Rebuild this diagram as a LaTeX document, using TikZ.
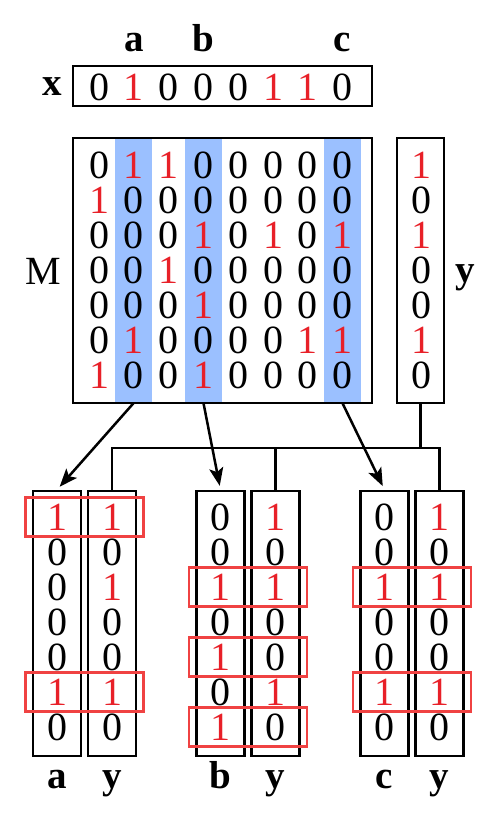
\documentclass[tikz,border=0pt]{standalone}
\usepackage{fontspec}
\setmainfont{Liberation Serif}
\usetikzlibrary{arrows.meta}
\definecolor{bitred}{RGB}{232,32,40}
\definecolor{stripeblue}{RGB}{155,192,255}
\definecolor{hitred}{RGB}{240,66,66}
\tikzset{
  b0/.style={text=black, inner sep=0pt, font=\fontsize{40}{40}\selectfont},
  b1/.style={text=bitred, inner sep=0pt, font=\fontsize{40}{40}\selectfont},
  lbl/.style={anchor=base, inner sep=0pt, font=\fontsize{39}{39}\selectfont\bfseries},
  vecbox/.style={draw, line width=2.5pt, minimum width=48pt, minimum height=265pt, inner sep=0pt},
  stripe/.style={fill=stripeblue, minimum width=37pt, minimum height=265pt, inner sep=0pt},
  hitbox/.style={draw=hitred, line width=2.5pt, minimum width=118pt, minimum height=39pt, inner sep=0pt},
  conn/.style={line width=2.5pt},
  arr/.style={conn, -{Stealth[length=18pt, width=14pt, inset=4pt]}, shorten >=4pt}
}
\begin{document}
\begin{tikzpicture}[x=1pt, y=-1pt]
  \useasboundingbox (0,0) rectangle (500,824);

  % Vector x with column labels
  \node[lbl] (lblx) at (52,96) {x};
  \node[draw, line width=2.5pt, minimum width=299pt, minimum height=40pt, inner sep=0pt] (xvec) at (222.5,86) {};
  \foreach \v [count=\c] in {0,1,0,0,0,1,1,0} {
    \node[b\v] (x\c) at ({64.2+34.8*\c}, 87) {\v};
  }
  \node[lbl] (lbltopa) at (133.8,52) {a};
  \node[lbl] (lbltopb) at (203.4,52) {b};
  \node[lbl] (lbltopc) at (342.6,52) {c};

  % Matrix M with the selected columns shaded
  \node[stripe] (stripea) at (133.5,270.5) {};
  \node[stripe] (stripeb) at (203.5,270.5) {};
  \node[stripe] (stripec) at (342.5,270.5) {};
  \node[draw, line width=2.5pt, minimum width=299pt, minimum height=265pt, inner sep=0pt] (mat) at (222.5,270.5) {};
  \node[font=\fontsize{40}{40}\selectfont, anchor=base, inner sep=0pt] (lblm) at (43,284) {M};
  \foreach \row [count=\r] in {{0,1,1,0,0,0,0,0},{1,0,0,0,0,0,0,0},{0,0,0,1,0,1,0,1},
      {0,0,1,0,0,0,0,0},{0,0,0,1,0,0,0,0},{0,1,0,0,0,0,1,1},{1,0,0,1,0,0,0,0}} {
    \foreach \v [count=\c] in \row {
      \node[b\v] (m\r\c) at ({64.2+34.8*\c}, {130+35*\r}) {\v};
    }
  }

  % Vector y
  \node[vecbox, minimum width=47pt] (yvec) at (420.5,270.5) {};
  \foreach \v [count=\r] in {1,0,1,0,0,1,0} {
    \node[b\v] (yv\r) at (421, {130+35*\r}) {\v};
  }
  \node[lbl] (lbly) at (465,282) {y};

  % Column / y pairs below
  \foreach \g/\gx/\bits/\hits in {a/84.5/{1,0,0,0,0,1,0}/{1,6},
      b/248/{0,0,1,0,1,0,1}/{3,5,7}, c/412/{0,0,1,0,0,1,0}/{3,6}} {
    \node[vecbox] (col\g) at ({\gx-27.5},623.5) {};
    \node[vecbox] (y\g) at ({\gx+27.5},623.5) {};
    \foreach \v [count=\r] in \bits {
      \node[b\v] (col\g\r) at ({\gx-27.5}, {482+35*\r}) {\v};
    }
    \foreach \v [count=\r] in {1,0,1,0,0,1,0} {
      \node[b\v] (y\g\r) at ({\gx+27.5}, {482+35*\r}) {\v};
    }
    \foreach \h in \hits {
      \node[hitbox] (hit\g\h) at (\gx, {482+35*\h}) {};
    }
    \node[lbl] (lbl\g) at ({\gx-27.5},788) {\g};
    \node[lbl] (lbly\g) at ({\gx+27.5},788) {y};
  }

  % Connectors
  \draw[arr] (stripea.south) -- (cola.north);
  \draw[arr] (stripeb.south) -- (colb.north);
  \draw[arr] (stripec.south) -- (colc.north);
  \coordinate (bus) at (420.5,448);
  \draw[conn] (yvec.south) -- (bus);
  \draw[conn] (ya.north) |- (bus) -| (yc.north);
  \draw[conn] (yb.north) -- (yb.north |- bus);
\end{tikzpicture}
\end{document}
